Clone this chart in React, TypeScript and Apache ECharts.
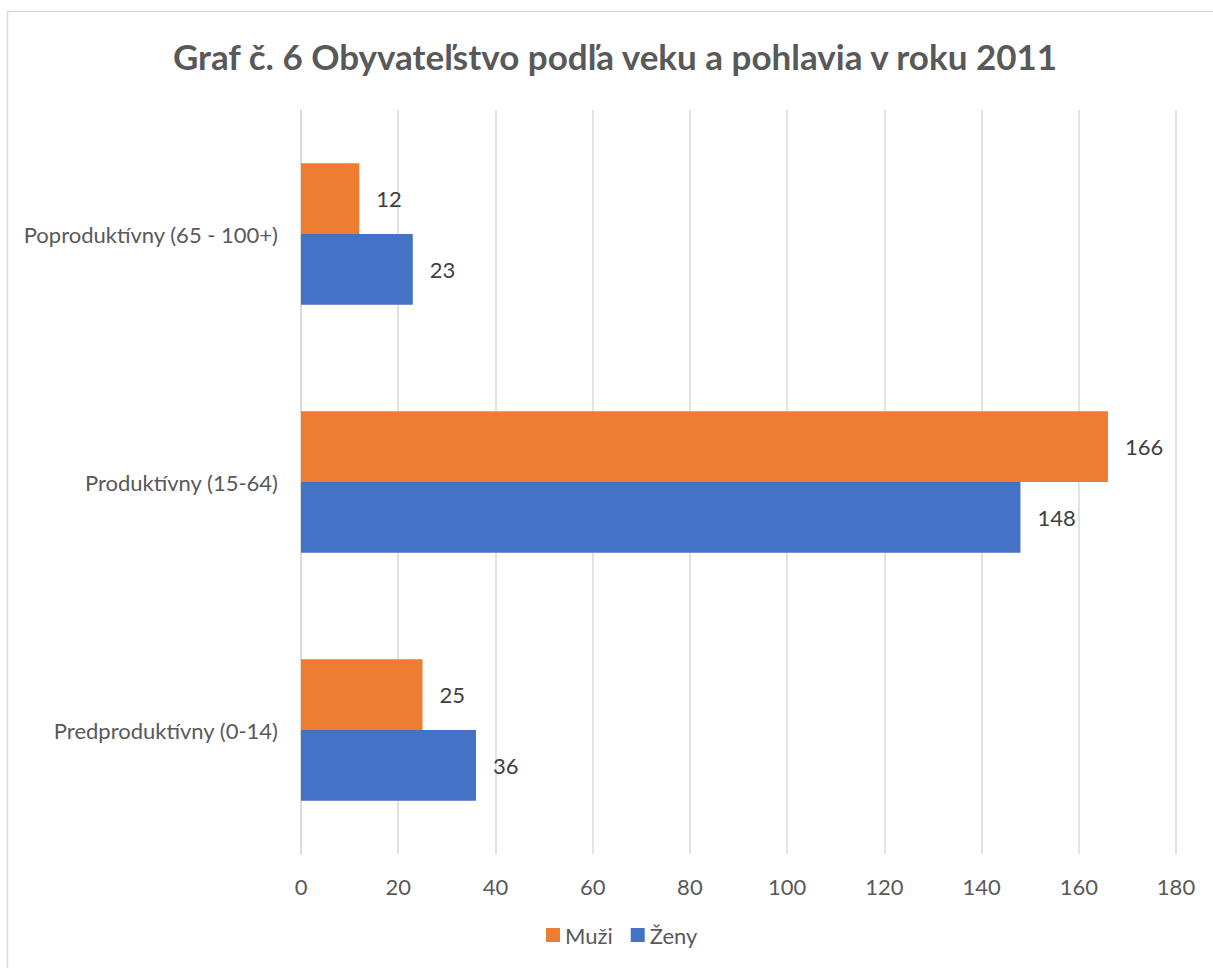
import React, { useEffect, useRef } from "react";
import * as echarts from "echarts";

const categories = ["Predproduktívny (0-14)", "Produktívny (15-64)", "Poproduktívny (65 - 100+)"];
const muzi = [25, 166, 12];
const zeny = [36, 148, 23];
const xTicks = { min: 0, max: 180, interval: 20 };
const titleText = "Graf č. 6 Obyvateľstvo podľa veku a pohlavia v roku 2011";

const FONT = "Lato, 'Liberation Sans', sans-serif";

export default function App() {
  const ref = useRef<HTMLDivElement>(null);
  useEffect(() => {
    if (!ref.current) return;
    const chart = echarts.init(ref.current, null, { renderer: "svg" });
    chart.setOption({
      animation: false,
      textStyle: { fontFamily: FONT },
      graphic: [
        {
          type: "rect",
          shape: { x: 7.5, y: 11.5, width: 1300, height: 1000 },
          style: { fill: "none", stroke: "#d9d9d9", lineWidth: 1.5 },
          silent: true,
        },
        {
          type: "text",
          x: 615,
          y: 56,
          style: {
            text: titleText,
            align: "center",
            verticalAlign: "middle",
            font: `bold 35px ${FONT}`,
            fill: "#595959",
          },
        },
      ],
      grid: { left: 301, right: 37, top: 110, bottom: 114 },
      xAxis: {
        type: "value",
        min: xTicks.min,
        max: xTicks.max,
        interval: xTicks.interval,
        axisLine: { show: false },
        axisTick: { show: false },
        splitLine: { lineStyle: { color: "#d9d9d9", width: 1.5 } },
        axisLabel: { color: "#595959", fontSize: 22, margin: 21, fontFamily: FONT },
      },
      yAxis: {
        type: "category",
        data: categories,
        axisLine: { show: true, lineStyle: { color: "#d9d9d9", width: 1.5 } },
        axisTick: { show: false },
        axisLabel: { color: "#595959", fontSize: 22, margin: 23, fontFamily: FONT },
      },
      legend: {
        bottom: 17,
        left: 541,
        icon: "rect",
        itemWidth: 14,
        itemHeight: 14,
        itemGap: 18,
        textStyle: { color: "#595959", fontSize: 22, fontFamily: FONT },
        data: ["Muži", "Ženy"],
      },
      series: [
        {
          name: "Muži",
          type: "bar",
          data: muzi,
          barGap: "0%",
          barCategoryGap: "43%",
          itemStyle: { color: "#ED7D31" },
          label: { show: true, position: "right", distance: 17, color: "#404040", fontSize: 22, fontFamily: FONT },
        },
        {
          name: "Ženy",
          type: "bar",
          data: zeny,
          barGap: "0%",
          barCategoryGap: "43%",
          itemStyle: { color: "#4472C4" },
          label: { show: true, position: "right", distance: 17, color: "#404040", fontSize: 22, fontFamily: FONT },
        },
      ],
    });
    return () => chart.dispose();
  }, []);
  return (
    <div
      ref={ref}
      style={{ position: "fixed", left: 0, top: 0, width: 1213, height: 968, background: "#fff" }}
    />
  );
}
